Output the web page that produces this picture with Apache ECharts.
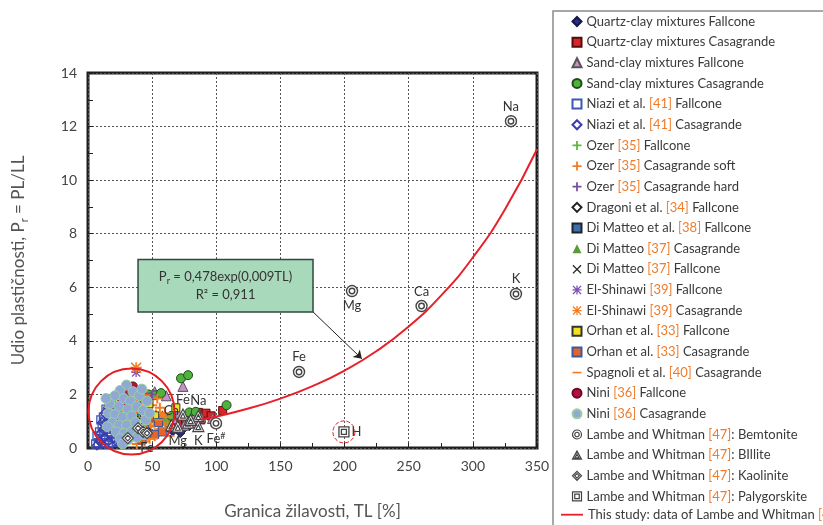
<!DOCTYPE html>
<html><head><meta charset="utf-8">
<script src="https://cdn.jsdelivr.net/npm/echarts/dist/echarts.min.js"></script>
<style>html,body{margin:0;padding:0;background:#fff}#c{width:823px;height:525px}</style>
</head><body><div id="c"></div><script>
// ---------- DATA (TL [%], Pr) ----------
const xTicks = [0, 50, 100, 150, 200, 250, 300, 350];
const yTicks = [0, 2, 4, 6, 8, 10, 12, 14];

const quartzFall = [[57,0.68],[63,0.72],[66,0.62],[72,0.56],[75,0.74],[79,0.82],[84,0.92],[69,0.9]];
const quartzCasa = [[70,0.95],[76,1.1],[80,1.0],[86,1.33],[88,1.05],[92,1.3],[96,1.2],[105,1.4]];
const sandFall = [[15.5,1.65],[52,2.1],[61,1.95],[74,2.3],[97,1.1],[75,0.85],[66,1.1],[83,1.2],[88,1.15],[58,1.2],[70,1.3],[84,0.95]];
const sandCasa = [[15.6,1.8],[47,2.0],[52,1.97],[57,2.05],[72.5,2.6],[78,2.72],[61,0.98],[79,1.33],[84,1.35],[108,1.6],[65,1.2]];
const niaziFall = [[8,0.2],[10,0.35],[12,0.5],[14,0.3],[11,0.8],[13,1.0],[15,0.6],[16,1.2],[18,0.4],[17,0.9],[19,1.4],[20,0.7],[21,1.1],[22,0.25],[23,1.5],[24,0.55],[25,0.85],[26,1.25],[27,0.45],[28,1.6],[29,0.75],[30,1.05],[14,1.45],[12,1.15],[9,0.6],[16,0.15],[19,0.2],[22,0.95],[25,0.3],[31,0.4],[33,0.65],[18,1.65],[26,1.7],[6,0.15],[7,0.45],[10,1.05]];
const niaziCasa = [[7,0.1],[9,0.25],[11,0.15],[13,0.4],[10,0.55],[15,0.75],[12,0.7],[17,0.5],[14,0.95],[16,0.25],[18,1.05],[20,0.35],[21,0.6],[23,0.2],[24,0.75],[19,0.85],[22,1.3],[26,0.25],[13,1.3],[11,0.95]];
const ozerFall = [[28,0.6],[35,0.9],[42,1.2],[48,0.8],[38,1.5]];
const ozerSoft = [[26,0.3],[28,0.5],[30,0.8],[32,1.2],[33,0.4],[34,1.6],[35,0.7],[36,1.0],[37,1.9],[38,0.35],[39,1.3],[40,0.6],[41,1.7],[42,0.9],[43,1.45],[44,0.25],[45,1.1],[46,2.0],[47,0.55],[48,1.35],[49,0.8],[50,1.6],[51,1.0],[52,0.45],[53,1.25],[54,1.85],[55,0.7],[56,1.5],[57,0.95],[58,1.15],[60,1.3],[62,0.85],[31,1.8],[29,1.4],[36,2.1],[44,1.85],[48,0.35],[42,0.2],[33,0.9],[38,0.15]];
const ozerHard = [[40,1.8],[45,1.5],[50,2.0],[36,1.2]];
const dragoni = [[38,0.75],[42,0.55],[36,0.5],[47,0.6],[40,0.95]];
const diMatteo38Fall = [[22,0.8],[26,1.1],[30,0.6],[34,1.4],[28,0.35]];
const diMatteo37Casa = [[30,1.3],[34,0.9],[38,1.6],[44,1.0]];
const diMatteo37Fall = [[32,1.0],[36,1.3],[40,0.8],[29,0.7]];
const elShinawiFall = [[37.5,2.82]];
const elShinawiCasa = [[37.5,3.0]];
const orhanFall = [[47.5,1.65],[68.5,1.5],[44,1.3],[52,1.2]];
const orhanCasa = [[32,0.5],[36,0.9],[40,1.4],[44,0.7],[48,1.15],[52,0.5],[55,0.95],[38,1.75],[30,1.1],[46,1.9],[58,0.6],[42,0.3]];
const spagnoli = [[28,0.9],[32,0.25],[35,1.35],[39,0.5],[43,0.85],[47,1.25],[51,0.35],[55,1.05],[59,0.75],[62,1.15],[64,0.45],[33,1.65]];
const niniFall = [[31,2.0],[29,2.15],[35,2.3],[27,1.7]];
const niniCasa = [[30,2.35],[25,2.15],[21,1.95],[35,2.1],[28,1.85],[33,1.75],[17,1.65],[40,1.95],[24,1.55],[31,1.45],[38,1.55],[16,1.3],[21,1.25],[27,1.15],[34,1.2],[43,1.4],[19,0.95],[24,0.85],[30,0.85],[37,0.95],[45,1.05],[22,0.6],[28,0.55],[34,0.6],[41,0.7],[25,0.35],[31,0.3],[38,0.4],[46,1.75],[48,1.3],[14,1.85],[42,2.2],[15,0.8],[27,0.15],[44,0.5]];
const bentonite = [[329.7,12.2],[333.6,5.75],[205.8,5.86],[260,5.3],[164.5,2.84],[99.8,0.92]];
const bentoniteLabels = ['Na','K','Mg','Ca','Fe','Fe{sup|#}'];
const bentoniteLabelPos = ['top','top','bottom','top','top','bottom'];
const illite = [[65,0.85],[74,1.25],[86,1.2],[70,0.8],[86,0.82],[78,0.95],[80,1.05]];
const illiteLabels = ['Ca','Fe','Na','Mg','K','',''];
const illiteLabelPos = ['top','top','top','bottom','bottom','top','top'];
const kaolinite = [[39,0.74],[43,0.6],[46,0.55],[31,0.37]];
const kaoliniteLabels = ['','','Fe',''];
const palygorskite = [[199.5,0.6]];
const palygorskiteLabels = ['H'];
const fitTL = [88,100,125,150,175,200,225,250,275,300,325,350];
const fitPr = [1.056,1.176,1.472,1.844,2.309,2.892,3.621,4.535,5.679,7.113,8.907,11.155];
const clusterCircle = [[33.9,1.36]];
const fitBox = [[39,7.04],[175.4,5.08]];
const fitArrow = [[175.4,5.08],[213.5,3.33]];

// ---------- STYLE ----------
const FONT = 'Lato';
const TXT = '#3a3a3a';
const ORANGE = '#f07b2a';
const PLUS = 'path://M4,0H6V4H10V6H6V10H4V6H0V4H4Z';
const CROSS = 'path://M1,0L5,4L9,0L10,1L6,5L10,9L9,10L5,6L1,10L0,9L4,5L0,1Z';
const STAR = 'path://M4.3,0H5.7V10H4.3Z M0,4.3H10V5.7H0Z M1,0L5,4L9,0L10,1L6,5L10,9L9,10L5,6L1,10L0,9L4,5L0,1Z';
const DASH = 'path://M0,0M10,10M0,4.1H10V5.9H0Z';
const DCIRCLE = 'path://M0,10A10,10,0,1,1,20,10A10,10,0,1,1,0,10Z M5,10A5,5,0,1,1,15,10A5,5,0,1,1,5,10Z';
const DTRI = 'path://M10,0L20,18H0Z M10,7L14.5,15H5.5Z';
const DDIAM = 'path://M10,0L20,10L10,20L0,10Z M10,5L15,10L10,15L5,10Z';
const DSQ = 'path://M0,0H20V20H0Z M5,5H15V15H5Z';
const LINEICON = 'path://M0,0M22,9M0,3.6H22V5.4H0Z';
const LAMBE_STYLE = {color:'#fff', borderColor:'#444', borderWidth:1.2};

function sc(name, data, symbol, size, itemStyle, extra) {
  return Object.assign({type:'scatter', name, data, symbol, symbolSize:size,
    itemStyle:Object.assign({opacity:1}, itemStyle), emphasis:{disabled:true}, silent:true,
    labelLayout:{hideOverlap:false}}, extra||{});
}
const lblStyle = {show:true, color:'#333', fontSize:13, fontFamily:FONT, distance:2,
  rich:{sup:{fontSize:9, color:'#333', fontFamily:FONT, verticalAlign:'top', padding:[0,0,6,0]}}};
function labelled(pts, labels, pos) {
  return pts.map((p,i)=>({value:p, label:Object.assign({}, lblStyle, {show:!!labels[i], formatter:labels[i]||'',
    position:(pos&&pos[i])||'top'})}));
}

const LINE_NAME = 'This study: data of Lambe and Whitman [47]';
const series = [
  sc('Quartz-clay mixtures Fallcone', quartzFall, 'diamond', 9, {color:'#2a2d7c', borderColor:'#15174a', borderWidth:1}),
  sc('Quartz-clay mixtures Casagrande', quartzCasa, 'rect', 8, {color:'#d7262b', borderColor:'#5a0a0a', borderWidth:1}),
  sc('Sand-clay mixtures Fallcone', sandFall, 'triangle', 10, {color:'#c88fc8', borderColor:'#555', borderWidth:1}),
  sc('Sand-clay mixtures Casagrande', sandCasa, 'circle', 9, {color:'#4fb23c', borderColor:'#1f4a1a', borderWidth:1}),
  sc('Niazi et al. [41] Fallcone', niaziFall, 'rect', 8, {color:'rgba(255,255,255,0)', borderColor:'#3f56b2', borderWidth:1.3}),
  sc('Niazi et al. [41] Casagrande', niaziCasa, 'diamond', 9, {color:'rgba(255,255,255,0)', borderColor:'#3a3cb0', borderWidth:1.3}),
  sc('Ozer [35] Fallcone', ozerFall, PLUS, 9, {color:'#5cb83c'}),
  sc('Ozer [35] Casagrande soft', ozerSoft, PLUS, 10, {color:'#f47b20'}),
  sc('Ozer [35] Casagrande hard', ozerHard, PLUS, 9, {color:'#7a4fa0'}),
  sc('Dragoni et al. [34] Fallcone', dragoni, 'diamond', 9, {color:'#fff', borderColor:'#222', borderWidth:1.3}),
  sc('Di Matteo et al. [38] Fallcone', diMatteo38Fall, 'rect', 8, {color:'#3a70b2', borderColor:'#222', borderWidth:1}),
  sc('Di Matteo [37] Casagrande', diMatteo37Casa, 'triangle', 9, {color:'#5a9a3a'}),
  sc('Di Matteo [37] Fallcone', diMatteo37Fall, CROSS, 9, {color:'#222'}),
  sc('El-Shinawi [39] Fallcone', elShinawiFall, STAR, 9, {color:'#7b4fb5'}),
  sc('El-Shinawi [39] Casagrande', elShinawiCasa, STAR, 11, {color:'#f47b20'}),
  sc('Orhan et al. [33] Fallcone', orhanFall, 'rect', 8, {color:'#f2e21e', borderColor:'#333', borderWidth:1}),
  sc('Orhan et al. [33] Casagrande', orhanCasa, 'rect', 8, {color:'#e8622a', borderColor:'#3a5aa0', borderWidth:1}),
  sc('Spagnoli et al. [40] Casagrande', spagnoli, DASH, 9, {color:'#f47b20'}),
  sc('Nini [36] Fallcone', niniFall, 'circle', 9, {color:'#b3123e', borderColor:'#6a0a25', borderWidth:1}),
  sc('Nini [36] Casagrande', niniCasa, 'circle', 10, {color:'#8fa9d4', borderColor:'#9bd09e', borderWidth:1}),
  sc('Lambe and Whitman [47]: Bemtonite', labelled(bentonite, bentoniteLabels, bentoniteLabelPos), DCIRCLE, 11, {color:'#fff', borderColor:'#444', borderWidth:1.4}, {z:3}),
  sc('Lambe and Whitman [47]: BIllite', labelled(illite, illiteLabels, illiteLabelPos), DTRI, 11, LAMBE_STYLE, {z:3}),
  sc('Lambe and Whitman [47]: Kaolinite', labelled(kaolinite, kaoliniteLabels, ['top','top','bottom','top']), DDIAM, 11, LAMBE_STYLE, {z:3}),
  sc('Lambe and Whitman [47]: Palygorskite', labelled(palygorskite, palygorskiteLabels, ['right']), DSQ, 10, {color:'#fff', borderColor:'#444', borderWidth:1.3}, {z:3}),
  {type:'line', name:LINE_NAME, data:fitTL.map((t,i)=>[t,fitPr[i]]),
   smooth:true, symbol:'none', lineStyle:{color:'#e8202a', width:2}, itemStyle:{color:'#e8202a'}, silent:true, z:4,
   markArea:{silent:true, itemStyle:{color:'#a9d9bb', borderColor:'#2f4a3c', borderWidth:1.5},
     label:{show:true, position:'inside', color:'#333', fontFamily:FONT, fontSize:13, lineHeight:18,
       formatter:'{a|P}{s|r}{a| = 0,478exp(0,009TL)}\n{a|R² = 0,911}',
       rich:{a:{fontSize:13, fontFamily:FONT, color:'#333', lineHeight:18}, s:{fontSize:9, fontFamily:FONT, color:'#333', verticalAlign:'bottom', lineHeight:14}}},
     data:[[{coord:fitBox[0]},{coord:fitBox[1]}]]},
   markLine:{silent:true, symbol:['none','arrow'], symbolSize:8, lineStyle:{color:'#222', width:1, type:'solid'}, label:{show:false},
     data:[[{coord:fitArrow[0]},{coord:fitArrow[1]}]]}},
  sc('_cluster', clusterCircle, 'circle', 86, {color:'rgba(0,0,0,0)', borderColor:'#e31e24', borderWidth:2}, {z:5}),
  sc('_hcircle', palygorskite, 'circle', 22, {color:'rgba(0,0,0,0)', borderColor:'#e31e24', borderWidth:1, borderType:'dashed'}, {z:5})
];

const scatterNames = series.filter(s=>s.name[0] !== '_' && s.name !== LINE_NAME)
  .map(s=>s.name.indexOf('Lambe') === 0 ? {name:s.name, itemStyle:{color:'#fff', borderColor:'#444', borderWidth:1.2}} : s.name);
const ROW = 20.55, TOP0 = 15, GAP = 7.65;
const legendText = {fontSize:13, color:TXT, fontFamily:FONT,
  rich:{r:{fontSize:13, color:ORANGE, fontFamily:FONT}}};
const fmt = n=>n.replace(/\[(\d+)\]/, '{r|[$1]}');

const chart = echarts.init(document.getElementById('c'), null, {renderer:'canvas'});
chart.setOption({
  animation:false,
  backgroundColor:'#fff',
  textStyle:{fontFamily:FONT},
  grid:{left:88, right:286, top:73, bottom:72, show:true, borderColor:'#1e1e1e', borderWidth:3, backgroundColor:'rgba(0,0,0,0)'},
  xAxis:{type:'value', min:xTicks[0], max:xTicks[xTicks.length-1], interval:50,
    name:'Granica žilavosti, TL [%]', nameLocation:'middle', nameGap:55,
    nameTextStyle:{fontSize:17, color:'#555', fontFamily:FONT},
    axisLine:{show:false}, axisTick:{show:true, inside:true, length:5, lineStyle:{color:'#222'}},
    minorTick:{show:true, splitNumber:2, length:5, lineStyle:{color:'#222'}},
    axisLabel:{fontSize:14, color:'#444', margin:11, fontFamily:FONT},
    splitLine:{show:true, lineStyle:{color:'#555', type:[2,2], width:1}}},
  yAxis:{type:'value', min:yTicks[0], max:yTicks[yTicks.length-1], interval:2,
    name:'Udio plastičnosti, P{s|r} = PL/LL', nameLocation:'middle', nameGap:58,
    nameTextStyle:{fontSize:17, color:'#555', fontFamily:FONT,
      rich:{s:{fontSize:11, color:'#555', fontFamily:FONT, verticalAlign:'bottom', lineHeight:22}}},
    axisLine:{show:false}, axisTick:{show:true, inside:true, length:5, lineStyle:{color:'#222'}},
    minorTick:{show:true, splitNumber:2, length:5, lineStyle:{color:'#222'}},
    axisLabel:{fontSize:14, color:'#444', margin:11, fontFamily:FONT},
    splitLine:{show:true, lineStyle:{color:'#555', type:[2,2], width:1}}},
  legend:[
    {data:scatterNames, orient:'vertical', left:571.5, top:TOP0, padding:0, itemGap:GAP,
     itemWidth:9, itemHeight:9, selectedMode:false, textStyle:legendText, formatter:fmt},
    {data:[{name:LINE_NAME, icon:LINEICON}], orient:'vertical', left:561, top:TOP0 + 24*ROW, padding:0,
     itemWidth:22, itemHeight:9, selectedMode:false, textStyle:legendText, formatter:fmt}
  ],
  graphic:[{type:'rect', shape:{x:553, y:11, width:320, height:560}, style:{fill:'none', stroke:'#8a8a8a', lineWidth:1.5}, silent:true}],
  series
});
</script></body></html>
